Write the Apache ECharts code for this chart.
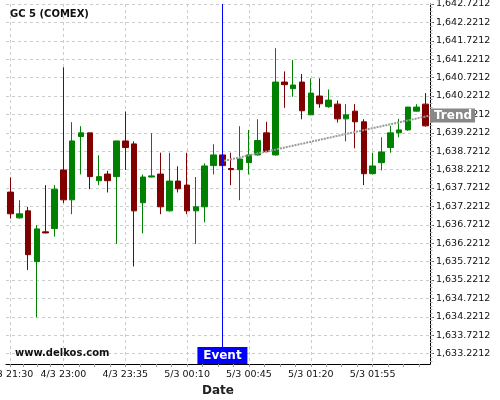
<!DOCTYPE html>
<html>
<head>
<meta charset="utf-8">
<title>GC 5 (COMEX)</title>
<script src="https://cdn.jsdelivr.net/npm/echarts@6/dist/echarts.min.js"></script>
<style>
  html, body { margin: 0; padding: 0; background: #fff; }
  #chart { width: 500px; height: 400px; }
</style>
</head>
<body>
<div id="chart"></div>
<script>
// 5 minute candles, one per category
const categories = [
  '4/3 21:30', '4/3 22:35', '4/3 22:40', '4/3 22:45', '4/3 22:50', '4/3 22:55',
  '4/3 23:00', '4/3 23:05', '4/3 23:10', '4/3 23:15', '4/3 23:20', '4/3 23:25',
  '4/3 23:30', '4/3 23:35', '4/3 23:40', '4/3 23:45', '4/3 23:50', '4/3 23:55',
  '5/3 00:00', '5/3 00:05', '5/3 00:10', '5/3 00:15', '5/3 00:20', '5/3 00:25',
  '5/3 00:30', '5/3 00:35', '5/3 00:40', '5/3 00:45', '5/3 00:50', '5/3 00:55',
  '5/3 01:00', '5/3 01:05', '5/3 01:10', '5/3 01:15', '5/3 01:20', '5/3 01:25',
  '5/3 01:30', '5/3 01:35', '5/3 01:40', '5/3 01:45', '5/3 01:50', '5/3 01:55',
  '5/3 02:00', '5/3 02:05', '5/3 02:10', '5/3 02:15', '5/3 02:20', '5/3 02:25'
]

// [open, close, low, high]
const candles = [
  [1637.61, 1637.02, 1636.89, 1638.01],
  [1636.91, 1637.02, 1636.89, 1637.39],
  [1637.10, 1635.91, 1635.49, 1637.21],
  [1635.72, 1636.61, 1634.21, 1636.71],
  [1636.53, 1636.50, 1636.49, 1637.80],
  [1636.62, 1637.69, 1636.40, 1637.80],
  [1638.21, 1637.40, 1637.31, 1641.00],
  [1637.40, 1639.00, 1637.01, 1639.51],
  [1639.12, 1639.22, 1638.09, 1639.40],
  [1639.22, 1638.03, 1637.69, 1639.22],
  [1637.92, 1638.03, 1637.80, 1638.61],
  [1638.10, 1637.92, 1637.60, 1638.19],
  [1638.03, 1639.00, 1636.20, 1639.00],
  [1639.00, 1638.82, 1638.21, 1639.80],
  [1638.92, 1637.10, 1635.59, 1638.99],
  [1637.32, 1638.02, 1636.49, 1638.09],
  [1638.02, 1638.05, 1638.01, 1639.21],
  [1638.10, 1637.21, 1637.01, 1638.68],
  [1637.10, 1637.91, 1637.08, 1638.68],
  [1637.91, 1637.70, 1637.60, 1638.31],
  [1637.80, 1637.10, 1637.01, 1638.68],
  [1637.10, 1637.21, 1636.20, 1638.02],
  [1637.21, 1638.32, 1636.79, 1638.39],
  [1638.33, 1638.62, 1638.09, 1638.91],
  [1638.62, 1638.33, 1638.31, 1638.64],
  [1638.25, 1638.22, 1637.80, 1638.68],
  [1638.22, 1638.51, 1637.39, 1639.40],
  [1638.41, 1638.62, 1638.09, 1639.30],
  [1638.62, 1639.01, 1638.60, 1639.59],
  [1639.22, 1638.71, 1638.69, 1639.52],
  [1638.62, 1640.60, 1638.60, 1641.52],
  [1640.60, 1640.53, 1639.90, 1640.89],
  [1640.42, 1640.52, 1640.20, 1641.20],
  [1640.60, 1639.82, 1639.59, 1640.82],
  [1639.71, 1640.30, 1639.70, 1640.70],
  [1640.22, 1640.01, 1639.90, 1640.70],
  [1639.93, 1640.11, 1639.90, 1640.40],
  [1640.00, 1639.60, 1639.50, 1640.10],
  [1639.60, 1639.71, 1638.99, 1640.00],
  [1639.81, 1639.52, 1638.80, 1640.00],
  [1639.52, 1638.11, 1637.80, 1639.59],
  [1638.11, 1638.32, 1638.09, 1638.68],
  [1638.41, 1638.70, 1638.20, 1639.10],
  [1638.82, 1639.22, 1638.68, 1639.41],
  [1639.22, 1639.30, 1639.10, 1639.60],
  [1639.30, 1639.92, 1639.28, 1639.92],
  [1639.81, 1639.92, 1639.80, 1640.00],
  [1640.00, 1639.41, 1639.39, 1640.30]
]

// labelled dates on the x axis
const xLabels = ['4/3 21:30', '4/3 23:00', '4/3 23:35', '5/3 00:10', '5/3 00:45', '5/3 01:20', '5/3 01:55']
// small ticks along the x axis (category positions)
const xMinorTicks = [0, 1.5, 3, 4.5, 6, 7.75, 9.5, 11.25, 13, 14.75, 16.5, 18.25, 20, 21.75, 23.5, 25.25,
  27, 28.75, 30.5, 32.25, 34, 35.75, 37.5, 39.25, 41, 42.75, 44.5, 46.25]

const yTicks = [1633.2212, 1633.7212, 1634.2212, 1634.7212, 1635.2212, 1635.7212, 1636.2212, 1636.7212,
  1637.2212, 1637.7212, 1638.2212, 1638.7212, 1639.2212, 1639.7212, 1640.2212, 1640.7212,
  1641.2212, 1641.7212, 1642.2212, 1642.7212]
const yMin = 1632.9386
const yMax = 1642.7212

const eventIndex = 24
// [category position, price]
const trendLine = [[24.2, 1638.46], [47.5, 1639.69]]

const labelIdx = xLabels.map(l => categories.indexOf(l))
const yMinorTicks = []
for (let v = yTicks[0] - 0.2; v <= yMax + 1e-6; v += 0.1) {
  yMinorTicks.push(+v.toFixed(4))
}

function fmtPrice (val) {
  const parts = (+val).toFixed(4).split('.')
  return parts[0].replace(/\B(?=(\d{3})+$)/g, ',') + '.' + parts[1]
}

const gridDash = { color: '#cccccc', width: 1, type: [3, 3] }

const chart = echarts.init(document.getElementById('chart'))
const option = {
  animation: false,
  backgroundColor: '#ffffff',
  textStyle: { fontFamily: 'DejaVu Sans' },
  title: [
    {
      text: 'GC 5 (COMEX)',
      left: 10,
      top: 9,
      padding: 0,
      textStyle: { fontSize: 10, fontWeight: 'bold', color: '#111', fontFamily: 'DejaVu Sans' }
    },
    {
      text: 'www.delkos.com',
      left: 15,
      top: 348,
      padding: 0,
      textStyle: { fontSize: 10, fontWeight: 'bold', color: '#111', fontFamily: 'DejaVu Sans' }
    }
  ],
  grid: { left: 6, right: 70, top: 4, bottom: 36, containLabel: false, outerBoundsMode: 'none' },
  xAxis: [
    {
      type: 'category',
      position: 'bottom',
      data: categories,
      boundaryGap: true,
      name: 'Date',
      nameLocation: 'middle',
      nameGap: 18,
      nameTextStyle: { fontSize: 12, fontWeight: 'bold', color: '#222' },
      axisLine: { onZero: false, lineStyle: { color: '#000', width: 1 } },
      axisTick: { show: false },
      axisLabel: {
        interval: (i, v) => xLabels.indexOf(v) >= 0,
        fontSize: 9.5,
        color: '#111',
        margin: 6
      },
      splitLine: { show: false }
    },
    {
      type: 'value',
      position: 'bottom',
      min: -0.5,
      max: categories.length - 0.5,
      axisLine: { show: false, onZero: false },
      axisLabel: { show: false },
      axisTick: { show: true, customValues: xMinorTicks, length: 3, lineStyle: { color: '#999' } },
      splitLine: { show: false }
    },
    {
      type: 'value',
      position: 'bottom',
      min: -0.5,
      max: categories.length - 0.5,
      axisLine: { show: false, onZero: false },
      axisLabel: { show: false },
      axisTick: { show: false, customValues: labelIdx },
      splitLine: { show: true, customValues: labelIdx, lineStyle: gridDash }
    }
  ],
  yAxis: [
    {
      type: 'value',
      position: 'right',
      min: yMin,
      max: yMax,
      axisLine: { show: true, onZero: false, lineStyle: { color: '#000', width: 1 } },
      axisTick: { show: true, customValues: yTicks, length: 4, lineStyle: { color: '#555' } },
      axisLabel: { customValues: yTicks, formatter: fmtPrice, fontSize: 9.5, color: '#111', margin: 6 },
      splitLine: { show: true, customValues: yTicks, lineStyle: gridDash }
    },
    {
      type: 'value',
      position: 'right',
      min: yMin,
      max: yMax,
      axisLine: { show: false, onZero: false },
      axisLabel: { show: false },
      axisTick: { show: true, customValues: yMinorTicks, length: 2.5, lineStyle: { color: '#aaa' } },
      splitLine: { show: false }
    }
  ],
  series: [
    {
      name: 'Trend',
      type: 'line',
      xAxisIndex: 1,
      yAxisIndex: 0,
      data: trendLine,
      symbol: 'none',
      silent: true,
      lineStyle: { color: '#999', width: 2, type: [2, 1] },
      endLabel: {
        show: true,
        formatter: 'Trend',
        distance: 0,
        color: '#fff',
        backgroundColor: '#888',
        fontWeight: 'bold',
        fontSize: 12,
        padding: [1, 3, 1, 4]
      }
    },
    {
      name: 'GC 5',
      type: 'candlestick',
      xAxisIndex: 0,
      yAxisIndex: 0,
      data: candles,
      barWidth: 6,
      itemStyle: {
        color: '#008000',
        color0: '#800000',
        borderColor: '#008000',
        borderColor0: '#800000',
        borderWidth: 1
      },
      markLine: {
        silent: true,
        symbol: 'none',
        label: { show: false },
        lineStyle: { color: '#0000ff', width: 1, type: 'solid' },
        data: [{ xAxis: categories[eventIndex] }]
      },
      markPoint: {
        silent: true,
        data: [{
          coord: [categories[eventIndex], yMin],
          symbol: 'rect',
          symbolSize: [50, 17],
          symbolOffset: [0, -8.5],
          itemStyle: { color: '#0000ff' },
          label: {
            show: true,
            position: 'inside',
            formatter: 'Event',
            color: '#fff',
            fontWeight: 'bold',
            fontSize: 12
          }
        }]
      }
    }
  ]
}
chart.setOption(option)
</script>
</body>
</html>
